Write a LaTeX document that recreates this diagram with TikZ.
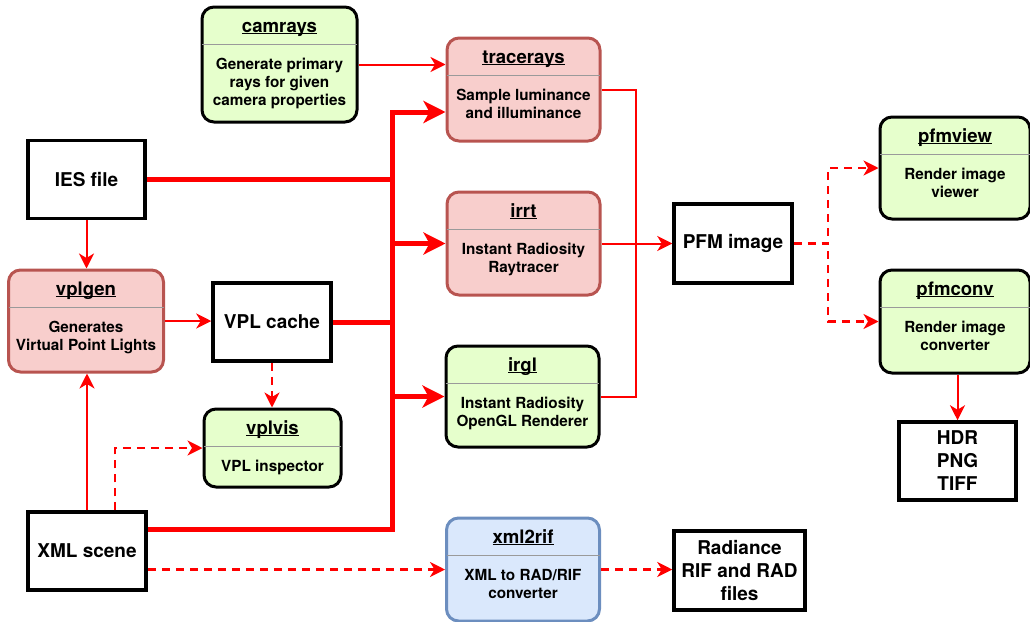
\documentclass[tikz,border=0pt]{standalone}
\usepackage{fontspec}
\setmainfont{TeX Gyre Heros}
\usetikzlibrary{arrows.meta,calc}

\definecolor{greenfill}{HTML}{E6FFCC}
\definecolor{redfill}{HTML}{F8CECC}
\definecolor{redline}{HTML}{B85450}
\definecolor{bluefill}{HTML}{DAE8FC}
\definecolor{blueline}{HTML}{6C8EBF}
\definecolor{flow}{HTML}{FF0000}
\definecolor{sepgray}{HTML}{9A9A9A}

% underlined tool name
\newcommand\titleul[1]{\setbox0=\hbox{#1}\rlap{\rule[-2.2pt]{\wd0}{1.1pt}}\box0}

\tikzset{
  plainbox/.style={draw=black, line width=3.5pt, fill=white, minimum width=117pt,
    minimum height=78pt, inner sep=0pt, align=center,
    font=\fontsize{19}{23}\selectfont\bfseries},
  toolbox/.style={rounded corners=12pt, line width=3pt, inner sep=0pt},
  greenbox/.style={toolbox, draw=black, fill=greenfill},
  redbox/.style={toolbox, draw=redline, fill=redfill},
  bluebox/.style={toolbox, draw=blueline, fill=bluefill},
  titletext/.style={anchor=base, inner sep=0pt, font=\fontsize{18.6}{22}\selectfont\bfseries},
  bodytext/.style={anchor=north, inner sep=0pt, align=center,
    font=\fontsize{15.3}{18}\selectfont\bfseries},
  separator/.style={draw=sepgray, line width=1.3pt},
  plainlink/.style={draw=flow, line width=2pt},
  link/.style={plainlink, -{Stealth[length=15pt,width=15pt,inset=4.5pt]}},
  buslink/.style={draw=flow, line width=5pt},
  busarrow/.style={buslink, -{Stealth[length=22pt,width=22pt,inset=6pt]}},
  dashlink/.style={draw=flow, line width=2.5pt, dash pattern=on 8pt off 6pt,
    -{Stealth[length=15pt,width=15pt,inset=4.5pt]}},
}

% name, cx, cy, width, height, style, title, description
\newcommand\toolbox[8]{%
  \node[#6, minimum width=#4pt, minimum height=#5pt] (#1) at (#2,#3) {};
  \node[titletext] at ($(#1.north)+(0,26.5)$) {\titleul{#7}};
  \draw[separator] ($(#1.north west)+(1.5,39)$) -- ($(#1.north east)+(-1.5,39)$);
  \node[bodytext] at ($(#1.north)+(0,52.5)$) {\rule{0pt}{11pt}#8};
}

\begin{document}
\begin{tikzpicture}[x=1pt,y=-1pt]
\useasboundingbox (0,0) rectangle (1030,621);

% tools
\toolbox{camrays}{279.5}{64.5}{155}{115}{greenbox}{camrays}{Generate primary\\rays for given\\camera properties}
\toolbox{tracerays}{523.5}{89.5}{153}{103}{redbox}{tracerays}{Sample luminance\\and illuminance}
\toolbox{irrt}{523.5}{243.5}{153}{103}{redbox}{irrt}{Instant Radiosity\\Raytracer}
\toolbox{irgl}{522.5}{396.5}{153}{101}{greenbox}{irgl}{Instant Radiosity\\OpenGL Renderer}
\toolbox{xml2rif}{523}{569.5}{153}{103}{bluebox}{xml2rif}{XML to RAD/RIF\\converter}
\toolbox{vplgen}{86}{321}{155}{102}{redbox}{vplgen}{Generates\\Virtual Point Lights}
\toolbox{vplvis}{272.5}{448}{137}{78}{greenbox}{vplvis}{VPL inspector}
\toolbox{pfmview}{955}{168}{150}{102}{greenbox}{pfmview}{Render image\\viewer}
\toolbox{pfmconv}{955}{321.5}{150}{103}{greenbox}{pfmconv}{Render image\\converter}

% data files
\node[plainbox] (ies) at (86.5,179.5) {IES file};
\node[plainbox, minimum width=118pt] (vplcache) at (272,322) {VPL cache};
\node[plainbox, minimum width=118pt] (xmlscene) at (87,551) {XML scene};
\node[plainbox, minimum width=118pt, minimum height=79pt] (pfm) at (733,243.5) {PFM image};
\node[plainbox] (hdr) at (957.5,461) {HDR\\PNG\\TIFF};
\node[plainbox, minimum width=131pt, minimum height=79pt] (radiance) at (739.5,570.5) {Radiance\\RIF and RAD\\files};

% shared input bus
\coordinate (bus) at (392,0);
\coordinate (trin) at ($(tracerays.west)+(0,22.5)$);
\draw[buslink] (ies.east) -- (ies.east -| bus);
\draw[buslink] (vplcache.east) -- (vplcache.east -| bus);
\draw[busarrow] ($(xmlscene.north east)+(0,19)$) -| (bus |- trin) -- (trin);
\draw[busarrow] (bus |- irrt.west) -- (irrt.west);
\draw[busarrow] (bus |- irgl.west) -- (irgl.west);

% thin flows
\draw[link] (camrays.east) -- (camrays.east -| tracerays.west);
\draw[link] (ies.south) -- (ies.south |- vplgen.north);
\draw[link] (vplgen.east) -- (vplgen.east -| vplcache.west);
\draw[link] (xmlscene.north) -- (xmlscene.north |- vplgen.south);
\draw[dashlink] (vplcache.south) -- (vplcache.south |- vplvis.north);
\draw[dashlink] ($(xmlscene.north)+(28,0)$) |- (vplvis.west);
\draw[dashlink] (xmlscene.east |- xml2rif.west) -- (xml2rif.west);
\draw[dashlink] (xml2rif.east) -- (xml2rif.east -| radiance.west);

% renderers to image
\coordinate (pfmjoin) at (636,243.5);
\draw[plainlink] (tracerays.east) -| (pfmjoin);
\draw[plainlink] (irgl.east) -| (pfmjoin);
\draw[link] (irrt.east) -- (irrt.east -| pfm.west);

% image consumers
\coordinate (viewjoin) at (828,243.5);
\draw[dashlink] (pfm.east) -- (viewjoin) |- (pfmview.west);
\draw[dashlink] (pfm.east) -- (viewjoin) |- (pfmconv.west);
\draw[link] (hdr.north |- pfmconv.south) -- (hdr.north);
\end{tikzpicture}
\end{document}
